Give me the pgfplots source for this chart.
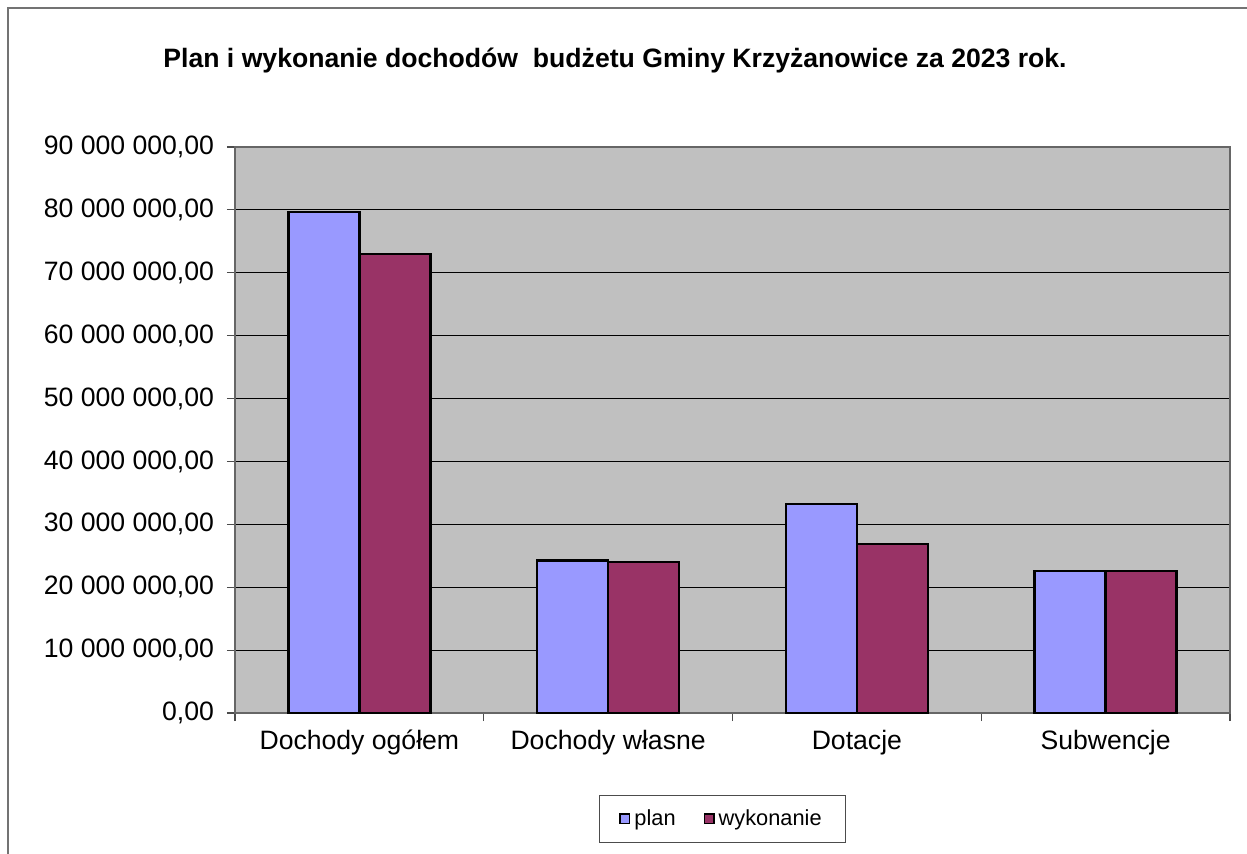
\documentclass[border=0pt]{standalone}
\usepackage{fontspec}
\setmainfont{Liberation Sans}
\usepackage{pgfplots}
\pgfplotsset{compat=1.18}
\definecolor{planc}{HTML}{9999FF}
\definecolor{wykc}{HTML}{993366}
\definecolor{bgc}{HTML}{C0C0C0}
\begin{document}
\begin{tikzpicture}
\useasboundingbox (0,0) rectangle (623.5pt,-427pt);
\draw[black!55, line width=0.8pt] (4pt,-427pt) -- (4pt,-4pt) -- (623.5pt,-4pt);
\node[font=\bfseries\fontsize{13.3}{16}\selectfont] at (307.5pt,-30.5pt) {Plan i wykonanie dochodów\ \ budżetu Gminy Krzyżanowice za 2023 rok.};
\begin{axis}[
  at={(117.5pt,-356.5pt)}, anchor=south west,
  scale only axis, width=497.5pt, height=283pt,
  axis background/.style={fill=bgc},
  axis line style={draw=black!60, line width=0.8pt},
  xmin=-0.5, xmax=3.5, ymin=0, ymax=90000000,
  scaled y ticks=false,
  xtick={-0.5,0.5,1.5,2.5,3.5},
  x tick label as interval,
  xticklabels={Dochody ogółem,Dochody własne,Dotacje,Subwencje},
  ytick={0,10000000,20000000,30000000,40000000,50000000,60000000,70000000,80000000,90000000},
  yticklabels={{0,00},{10 000 000,00},{20 000 000,00},{30 000 000,00},{40 000 000,00},{50 000 000,00},{60 000 000,00},{70 000 000,00},{80 000 000,00},{90 000 000,00}},
  tick label style={font=\fontsize{13.3}{16}\selectfont},
  yticklabel style={xshift=-3pt},
  xticklabel style={yshift=-1pt},
  tick align=outside, major tick length=4pt,
  xtick pos=bottom, ytick pos=left,
  tick style={black!70, line width=0.6pt},
  ymajorgrids, grid style={black, line width=0.6pt},
  ybar, bar width=0.2855,
  legend style={at={(0.49,-0.187)}, anchor=center, legend columns=2,
    font=\fontsize{10.9}{13}\selectfont, draw=black!70, line width=0.6pt,
    inner xsep=10pt, inner ysep=5pt,
    /tikz/every even column/.append style={column sep=12pt}},
  legend image code/.code={\draw[#1, line width=0.8pt] (0pt,-2.3pt) rectangle (4.7pt,2.3pt);},
]
\addplot[fill=planc, draw=black, line width=1.2pt, bar shift=-0.14275] coordinates {(0,79700000) (1,24250000) (2,33250000) (3,22580000)};
\addplot[fill=wykc, draw=black, line width=1.2pt, bar shift=0.14275] coordinates {(0,73000000) (1,24050000) (2,26850000) (3,22580000)};
\legend{plan,wykonanie}
\end{axis}
\end{tikzpicture}
\end{document}
